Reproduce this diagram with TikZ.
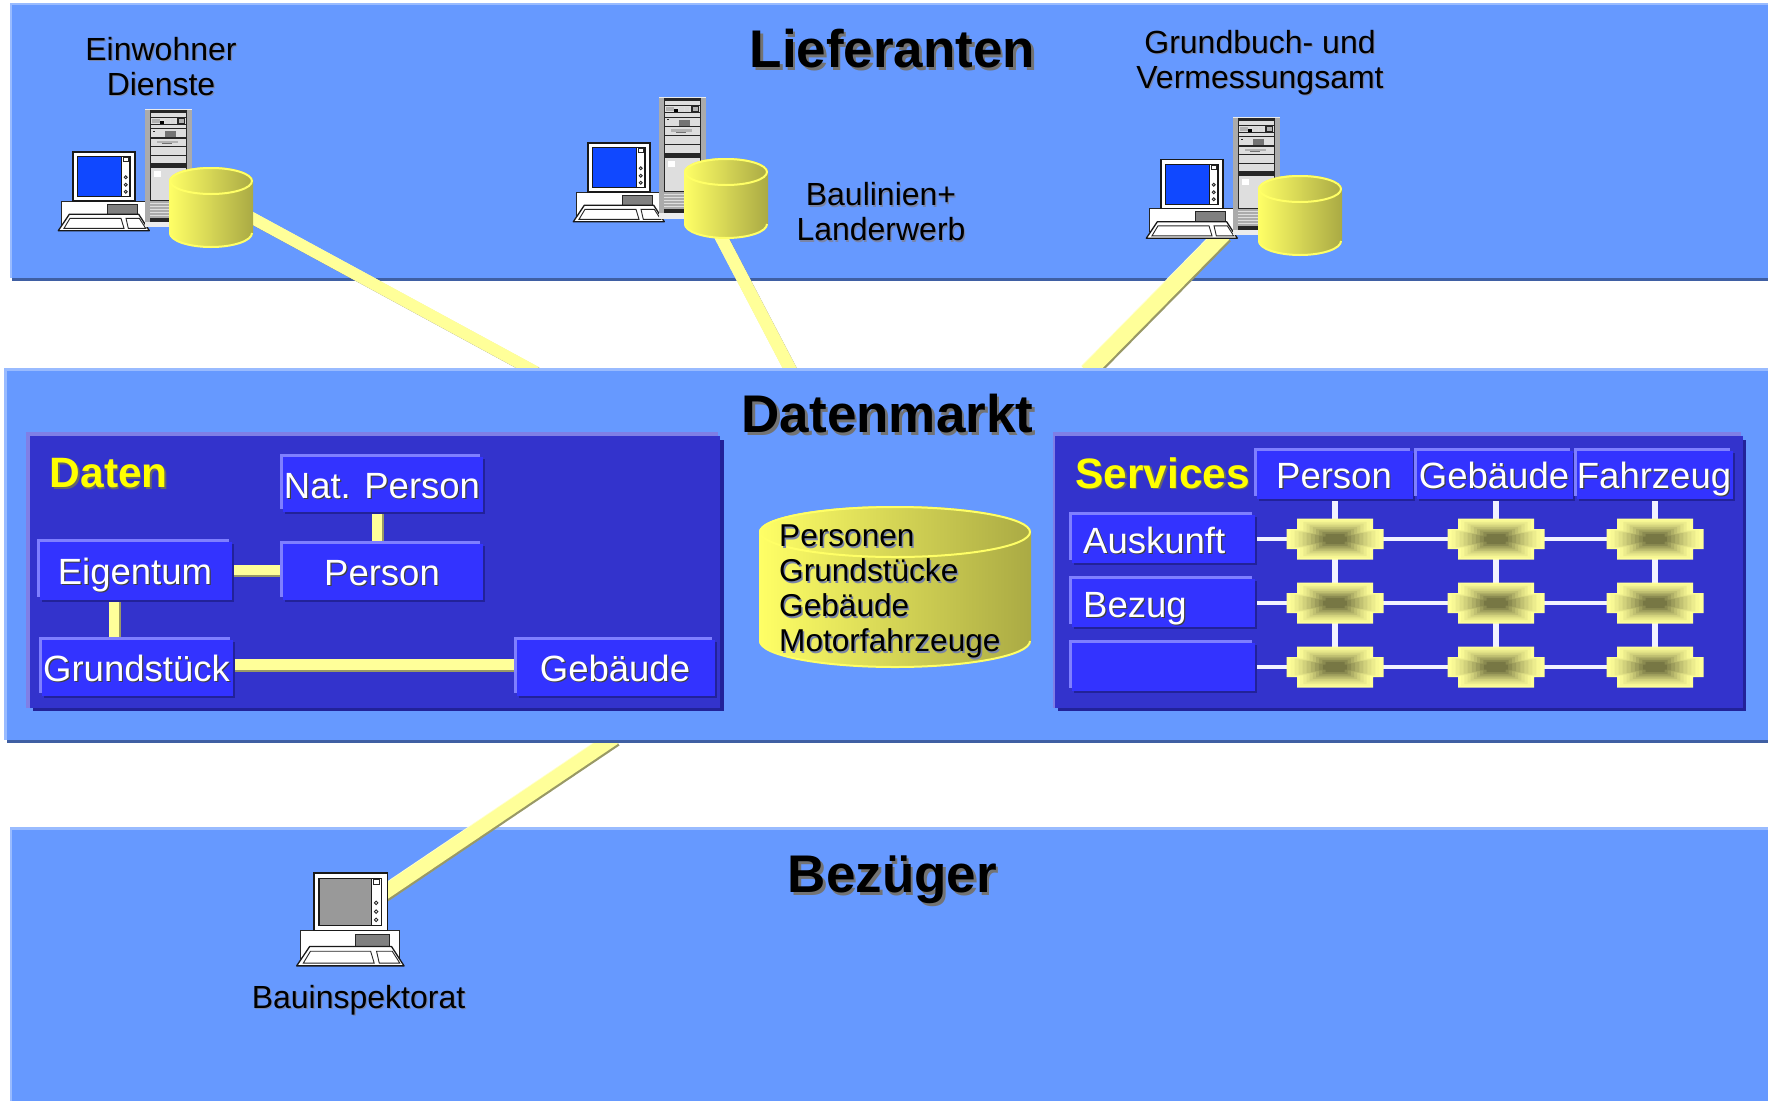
\documentclass[tikz,border=0pt]{standalone}
\usepackage{fontspec}
\setmainfont{Liberation Sans}
\usetikzlibrary{calc}
\definecolor{bandc}{HTML}{6699FF}
\definecolor{bandlight}{HTML}{99BBFF}
\definecolor{banddark}{HTML}{3F5FA3}
\definecolor{panelc}{HTML}{3333CC}
\definecolor{panellight}{HTML}{7F7FE6}
\definecolor{paneldark}{HTML}{222299}
\definecolor{boxc}{HTML}{3333FF}
\definecolor{boxlight}{HTML}{7F7FFF}
\definecolor{pipec}{HTML}{FFFF99}
\definecolor{pipehi}{HTML}{FFFFCC}
\definecolor{pipedark}{HTML}{999966}
\definecolor{cylleft}{HTML}{FFFF66}
\definecolor{cylright}{HTML}{AAAA44}
\definecolor{symlight}{HTML}{FFFF99}
\definecolor{symdark}{HTML}{777744}
\definecolor{gridc}{HTML}{F2F2FF}
\definecolor{txtshadow}{HTML}{7A85A8}
\definecolor{titleyellow}{HTML}{FFFF00}
\definecolor{screenblue}{HTML}{1048FF}
\pgfdeclarelayer{bandlayer}
\pgfdeclarelayer{connlayer}
\pgfdeclarelayer{datenlayer}
\pgfdeclarelayer{innerlayer}
\pgfsetlayers{bandlayer,connlayer,datenlayer,innerlayer,main}
% text with an offset shadow: colour, offset, text
\newcommand\shtxt[3]{\leavevmode\rlap{\kern#2\raisebox{-#2}{\textcolor{#1}{#3}}}#3}
\newcommand\pcunit[5]{%
  \node[hitbox,minimum width={91*#4},minimum height={78.7*#4}] (#1) at ({#2+#4*30.8},{#3+#4*39.35}) {};
  \begin{scope}[shift={(#2,#3)},scale=#4]
    \draw[pcthin,fill=white] (-11.3,49) rectangle (72.3,72);
    \draw[pcthin,fill=pcdrive] (34.7,52.3) rectangle (64,62.3);
    \draw[pcline,fill=white] (0,0) rectangle (62,49);
    \draw[pcline,fill=#5] (4.3,4.7) rectangle (48.7,44.7);
    \draw[pcline,fill=white] (48.7,4.7) rectangle (57,44.7);
    \draw[pcthin,fill=white] (50.3,5.7) rectangle (55.3,9.7);
    \foreach \cy in {25.3,32.7,39.7} \draw[pcthin,fill=white] (52.7,\cy) circle [radius=1.5pt];
    \draw[pcline,fill=white,line join=round] (-3.7,62.3) -- (65.7,62.3) -- (76.3,78.7) -- (-14.7,78.7) -- cycle;
    \draw[pcthin,fill=white] (-3,66.3) -- (48,66.3) -- (51,76.3) -- (-9,76.3) -- cycle;
    \draw[pcthin,fill=white] (53,66.3) -- (66.3,66.3) -- (72.7,76.3) -- (55.3,76.3) -- cycle;
  \end{scope}}
\newcommand\serverunit[4]{%
  \node[hitbox,minimum width=47,minimum height={118*#4}] (#1) at ({#2+23.5},{#3+59*#4}) {};
  \begin{scope}[shift={(#2,#3)},yscale=#4]
    \fill[srvg] (0,0) rectangle (47,118);
    \fill[white!85!gray] (0,0) rectangle (47,1);
    \fill[white!85!gray] (0,113) rectangle (47,118);
    \fill[srvk] (5,1) rectangle (42,113);
    \fill[srvl] (6,4) rectangle (41,7.5);
    \fill[srvl] (6,8.5) rectangle (41,15);
    \fill[srvm] (7,9.5) rectangle (15,14);
    \fill[black] (15,12) rectangle (19,15);
    \fill[white!70!gray] (20,10) rectangle (25,15);
    \fill[white!70!gray] (26,10) rectangle (30,15);
    \fill[srvk] (32,8.5) rectangle (40,15);
    \fill[srvm] (34,10) rectangle (38.5,14);
    \fill[srvl] (6,15.5) rectangle (41,19);
    \fill[srvl] (6,20) rectangle (41,28);
    \fill[srvd] (20,22) rectangle (31,28);
    \fill[srvk] (8,21.5) rectangle (10,22.5);
    \fill[srvl] (6,29.5) rectangle (41,36.5);
    \fill[srvm] (12,31.5) rectangle (33,33.5);
    \fill[srvd] (17,33.5) rectangle (27,35);
    \fill[srvl] (6,38) rectangle (41,46);
    \fill[srvl] (6,46.5) rectangle (41,54);
    \fill[srvl] (6,59) rectangle (41,91);
    \fill[white] (9,62) rectangle (16,68);
    \fill[srvg] (5,92) rectangle (42,109);
    \foreach \sy in {94,97,100,103,106} \fill[srvl] (5,\sy) rectangle (42,{\sy+1.2});
  \end{scope}}
\newcommand\cylunit[6]{% name cx cy rx ry h
  \node[hitbox,minimum width={2*#4},minimum height={2*#5+#6}] (#1) at (#2,{#3+#6/2}) {};
  \shade[left color=cylleft,right color=cylright]
    ({#2-#4},#3) -- ({#2-#4},{#3+#6}) arc[start angle=180,end angle=360,x radius=#4pt,y radius=#5pt]
    -- ({#2+#4},#3) arc[start angle=0,end angle=180,x radius=#4pt,y radius=#5pt] -- cycle;
  \draw[cylleft,line width=2pt] ({#2-#4+1},{#3+#6}) arc[start angle=180,end angle=360,x radius={(#4-1)*1pt},y radius=#5pt];
  \shade[left color=cylleft,right color=cylright] (#2,#3) ellipse [x radius=#4pt,y radius=#5pt];
  \draw[cylleft,line width=2pt] (#2,#3) ellipse [x radius={(#4-1)*1pt},y radius={(#5-1)*1pt}];}
% framed box: name x0 y0 x1 y1 text
\newcommand\framedbox[6]{%
  \fill[boxlight] (#2,#3) rectangle ({#4-5},{#5-5});
  \fill[paneldark] ({#2+5},{#3+5}) rectangle (#4,#5);
  \node[boxnode,minimum width={#4-#2-5.5},minimum height={#5-#3-5}] (#1) at ({(#2+#4+0.5)/2},{(#3+#5+1.5)/2}) {\hspace*{-1.5pt}#6};}
\newcommand\symunit[3]{%
  \node[hitbox,minimum width=97,minimum height=41] (#1) at (#2,#3) {};
  \foreach \k in {0,...,11}{%
    \pgfmathtruncatemacro\pp{min(100,100*(\k/9)^1.3)}%
    \pgfmathsetmacro\ss{1-\k/12}%
    \fill[symdark!\pp!symlight,shift={(#2,#3)},scale=\ss]
      (-38,-20.5) -- (38,-20.5) -- (38,-10) -- (48.5,-10) -- (48.5,10) -- (38,10) -- (38,20.5)
      -- (-38,20.5) -- (-38,10) -- (-48.5,10) -- (-48.5,-10) -- (-38,-10) -- cycle;}}
\newcommand\pipeline[5]{% from, to, width, shadow shift, highlight shift
  \draw[pipedark,line width=#3pt,transform canvas={xshift=#4pt,yshift=-#4pt}] #1 -- #2;
  \draw[pipehi,line width=#3pt,transform canvas={xshift=-#5pt,yshift=#5pt}] #1 -- #2;
  \draw[pipec,line width=#3pt] #1 -- #2;}
\tikzset{
  hitbox/.style={inner sep=0pt,outer sep=0pt,draw=none,fill=none},
  pcline/.style={draw=black!90,line width=1.3pt},
  pcthin/.style={draw=black!85,line width=0.9pt},
  bandnode/.style={rectangle,fill=bandc,inner sep=0pt,outer sep=0pt},
  panelnode/.style={rectangle,fill=panelc,inner sep=0pt,outer sep=0pt},
  boxnode/.style={rectangle,fill=boxc,inner sep=0pt,outer sep=0pt,text=white,align=center,
    font=\fontsize{36.5}{40}\selectfont,text height=27pt,text depth=0pt},
  inpipe/.style={pipec,line width=10pt},
  inpipeshadow/.style={pipedark,line width=10pt},
  gridline/.style={gridc},
  label/.style={inner sep=0pt,align=center,text=black,font=\fontsize{32}{35}\selectfont},
  bigtitle/.style={inner sep=0pt,align=center,text=black,font=\fontsize{53}{56}\bfseries\selectfont},
  paneltitle/.style={inner sep=0pt,anchor=west,text=titleyellow,font=\fontsize{42.5}{46}\bfseries\selectfont},
}
\colorlet{pcdrive}{black!50}
\colorlet{srvg}{black!33}
\colorlet{srvk}{black!85}
\colorlet{srvl}{black!13}
\colorlet{srvm}{black!30}
\colorlet{srvd}{black!55}
\begin{document}
\begin{tikzpicture}[x=1pt,y=-1pt]
\useasboundingbox (0,0) rectangle (1768,1101);
% bands
\begin{pgfonlayer}{bandlayer}
  \fill[bandlight] (10,3) rectangle (1768,278);
  \fill[banddark] (12,278) rectangle (1768,281);
  \node[bandnode,minimum width=1756,minimum height=273] (lief) at (890,141.5) {};
  \fill[bandlight] (10,827) rectangle (1768,1101);
  \node[bandnode,minimum width=1756,minimum height=271] (bez) at (890,965.5) {};
\end{pgfonlayer}
\begin{pgfonlayer}{datenlayer}
  \fill[bandlight] (4,368) rectangle (1768,740);
  \fill[banddark] (7,740) rectangle (1768,743);
  \node[bandnode,minimum width=1761,minimum height=369] (markt) at (887.5,555.5) {};
  \fill[panellight] (26,432) rectangle (718,708);
  \fill[paneldark] (33,440) rectangle (723.5,711);
  \node[panelnode,minimum width=690,minimum height=272] (panelD) at (375,572) {};
  \fill[panellight] (1052.5,432) rectangle (1741,708);
  \fill[paneldark] (1058,440) rectangle (1746,711);
  \node[panelnode,minimum width=688,minimum height=272] (panelS) at (1399,572) {};
\end{pgfonlayer}
% stations
\pcunit{pcA}{73}{152}{1}{screenblue}
\serverunit{srvA}{145}{109}{1}
\cylunit{cylA}{211}{181}{42}{14}{52}
\pcunit{pcB}{588}{143}{1}{screenblue}
\serverunit{srvB}{659}{97}{1.03}
\cylunit{cylB}{726}{172}{42}{14}{52}
\pcunit{pcC}{1161}{159.5}{1}{screenblue}
\serverunit{srvC}{1233}{117}{1}
\cylunit{cylC}{1300}{189}{42}{14}{52}
\pcunit{pcD}{314}{873}{1.18}{black!40}
% named ends of the long connectors, on the edge of the Datenmarkt band
\coordinate (endA) at (535.9,372);
\coordinate (endB) at (791.6,372);
\coordinate (endC) at (1087.5,372);
\coordinate (endD) at (614,738);
\begin{pgfonlayer}{connlayer}
  \pipeline{([xshift=29pt,yshift=-4.4pt]cylA.center)}{(endA)}{11.4}{0.7}{0}
  \pipeline{([xshift=-11.3pt,yshift=-27pt]cylB.center)}{(endB)}{12.4}{0.6}{0}
  \pipeline{([xshift=31.7pt,yshift=-35.15pt]pcC.center)}{(endC)}{16}{1.6}{0.6}
  \pipeline{([xshift=30pt,yshift=24pt]pcD.center)}{(endD)}{14}{1.6}{0.6}
\end{pgfonlayer}
% titles
\node[bigtitle] (tL) at (892.5,50) {\shtxt{black!55}{2.5pt}{Lieferanten}};
\node[bigtitle] (tD) at (887.5,415) {\shtxt{black!55}{2.5pt}{Datenmarkt}};
\node[bigtitle] (tB) at (892.5,881) {\shtxt{black!55}{2.5pt}{Bezüger}};
\node[label] (lA) at (161,67) {\shtxt{txtshadow}{1.2pt}{Einwohner}\\\shtxt{txtshadow}{1.2pt}{Dienste}};
\node[label] (lB) at (881,212.5) {\shtxt{txtshadow}{1.2pt}{Baulinien+}\\\shtxt{txtshadow}{1.2pt}{Landerwerb}};
\node[label] (lC) at (1260,63) {\shtxt{txtshadow}{1.2pt}{Grundbuch- und}\\\shtxt{txtshadow}{1.2pt}{Vermessungsamt}};
\node[label] (lD) at (358.5,1000.5) {\shtxt{txtshadow}{1.2pt}{Bauinspektorat}};
% central store
\cylunit{cylM}{895}{532}{136}{26}{109}
\node[label,align=left,anchor=north west,font=\fontsize{31.6}{35}\selectfont] (cylText) at (779,525)
  {\shtxt{txtshadow}{1.5pt}{Personen}\\\shtxt{txtshadow}{1.5pt}{Grundstücke}\\\shtxt{txtshadow}{1.5pt}{Gebäude}\\\shtxt{txtshadow}{1.5pt}{Motorfahrzeuge}};
% Daten panel
\node[paneltitle] (tDaten) at (49.5,474) {\shtxt{black!60}{1.5pt}{Daten}};
\framedbox{nat}{280}{454}{485}{514}{\shtxt{black!75}{1.2pt}{Nat. Person}}
\framedbox{eig}{37}{539}{234}{602}{\shtxt{black!75}{1.2pt}{Eigentum}}
\framedbox{per}{280}{541}{485}{602}{\shtxt{black!75}{1.2pt}{Person}}
\framedbox{gru}{39}{637}{235}{698}{\shtxt{black!75}{1.2pt}{Grundstück}}
\framedbox{geb}{514}{637}{717}{698}{\shtxt{black!75}{1.2pt}{Gebäude}}
\begin{pgfonlayer}{innerlayer}
  \draw[inpipeshadow,transform canvas={xshift=2pt}] (nat.south -| 376.5,0) -- (376.5,0 |- per.north);
  \draw[inpipe] (nat.south -| 376.5,0) -- (376.5,0 |- per.north);
  \draw[inpipeshadow,transform canvas={yshift=-2.5pt}] (eig.east |- 0,569.5) -- (per.west |- 0,569.5);
  \draw[inpipe] (eig.east |- 0,569.5) -- (per.west |- 0,569.5);
  \draw[inpipeshadow,transform canvas={xshift=2pt}] (114,0 |- eig.south) -- (114,0 |- gru.north);
  \draw[inpipe] (114,0 |- eig.south) -- (114,0 |- gru.north);
  \draw[inpipeshadow,transform canvas={yshift=-2.5pt}] (gru.east |- 0,664.5) -- (geb.west |- 0,664.5);
  \draw[inpipe,line width=11pt] (gru.east |- 0,664.5) -- (geb.west |- 0,664.5);
\end{pgfonlayer}
% Services panel
\node[paneltitle] (tServ) at (1075,474) {\shtxt{black!60}{1.5pt}{Services}};
\framedbox{hP}{1254}{448}{1415}{501}{\shtxt{black!75}{1.2pt}{Person}}
\framedbox{hG}{1414}{448}{1575}{501}{\shtxt{black!75}{1.2pt}{Gebäude}}
\framedbox{hF}{1574}{448}{1735}{501}{\shtxt{black!75}{1.2pt}{Fahrzeug}}
\framedbox{rA}{1069}{512}{1257}{565}{}
\framedbox{rB}{1069}{576}{1257}{629}{}
\framedbox{rC}{1069}{640}{1257}{693}{}
\node[inner sep=0pt,anchor=base west,text=white,font=\fontsize{36.5}{40}\selectfont] (tAus) at (1083,553) {\shtxt{black!75}{1.2pt}{Auskunft}};
\node[inner sep=0pt,anchor=base west,text=white,font=\fontsize{36.5}{40}\selectfont] (tBez) at (1083,617) {\shtxt{black!75}{1.2pt}{Bezug}};
\symunit{s11}{1335}{539}
\symunit{s12}{1496}{539}
\symunit{s13}{1655}{539}
\symunit{s21}{1335}{603}
\symunit{s22}{1496}{603}
\symunit{s23}{1655}{603}
\symunit{s31}{1335}{667}
\symunit{s32}{1496}{667}
\symunit{s33}{1655}{667}
\begin{pgfonlayer}{innerlayer}
  \draw[gridline,line width=6.5pt] (s11 |- hP.south) -- (s11.center) -- (s21.center) -- (s31.center);
  \draw[gridline,line width=6.5pt] (s12 |- hG.south) -- (s12.center) -- (s22.center) -- (s32.center);
  \draw[gridline,line width=6.5pt] (s13 |- hF.south) -- (s13.center) -- (s23.center) -- (s33.center);
  \draw[gridline,line width=4.6pt] (rA.east |- s11) -- (s11.center) -- (s12.center) -- (s13.center);
  \draw[gridline,line width=4.6pt] (rB.east |- s21) -- (s21.center) -- (s22.center) -- (s23.center);
  \draw[gridline,line width=4.6pt] (rC.east |- s31) -- (s31.center) -- (s32.center) -- (s33.center);
\end{pgfonlayer}
\end{tikzpicture}
\end{document}
